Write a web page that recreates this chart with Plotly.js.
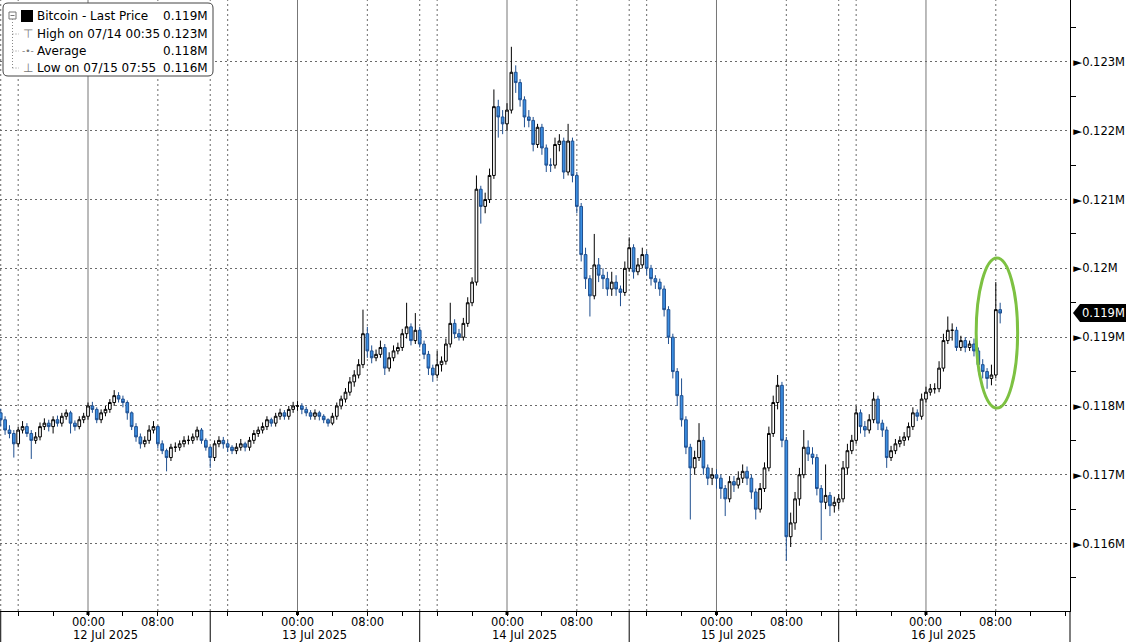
<!DOCTYPE html>
<html><head><meta charset="utf-8">
<script src="https://cdn.plot.ly/plotly-3.0.1.min.js"></script>
<style>html,body{margin:0;padding:0;background:#fff;}#chart{width:1126px;height:642px;}</style>
</head><body><div id="chart"></div>
<script>
// 30-minute Bitcoin candles, 11 Jul 2025 14:00 -> 16 Jul 2025 08:30
const openP = [
117900,117800,117650,117600,117450,117650,117700,117600,117500,117550,
117700,117750,117700,117800,117750,117850,117900,117750,117700,117800,
117850,118000,117950,117800,117900,117950,118050,118150,118100,118050,
117900,117700,117550,117450,117500,117650,117700,117450,117350,117250,
117400,117400,117450,117500,117500,117550,117650,117500,117400,117250,
117450,117500,117450,117400,117350,117400,117450,117400,117500,117600,
117650,117700,117800,117750,117850,117900,117850,117950,118000,118000,
117950,117900,117850,117900,117850,117800,117750,117850,118000,118100,
118200,118350,118450,118600,119050,118800,118700,118750,118850,118550,
118700,118800,118850,119050,119150,118950,119100,118900,118750,118550,
118450,118600,118650,118900,119200,119050,119000,119200,119500,119800,
121150,120900,121000,121350,122350,122200,122100,122300,122850,122700,
122450,122200,122150,121800,122050,121750,121500,121500,121800,121850,
121400,121850,121350,120900,120200,119850,119600,120050,119900,119850,
119700,119800,119700,119650,120000,120300,119950,120050,120200,120000,
119850,119800,119700,119400,119000,118500,118150,117800,117400,117100,
117250,117500,117100,116950,117000,116950,116800,116650,116900,116850,
116950,117050,116950,116750,116500,116800,117100,117600,118050,118300,
117500,116100,116300,116650,117000,117400,117300,117250,116800,116600,
116700,116550,116600,116650,117100,117350,117500,117900,117700,117650,
117800,118100,117750,117650,117250,117350,117450,117500,117550,117700,
117900,117850,118100,118200,118250,118250,118550,118950,119100,119100,
118850,118950,118850,118900,118800,118600,118500,118400,118450,119400
];
const highP = [
117960,117850,117720,117650,117700,117780,117750,117650,117620,117760,
117820,117800,117850,117860,117900,117950,117930,117790,117850,117900,
118050,118060,117980,117950,118000,118100,118230,118200,118150,118080,
117920,117750,117600,117560,117720,117780,117720,117500,117380,117450,
117470,117500,117560,117570,117600,117700,117680,117530,117420,117500,
117560,117550,117500,117430,117460,117520,117480,117550,117650,117700,
117760,117850,117830,117900,117960,117940,118000,118060,118070,118040,
117990,117940,117950,117930,117880,117820,117900,118050,118150,118260,
118420,118520,118680,119400,119150,118880,118820,118950,118900,118780,
118880,118920,119120,119500,119200,119350,119150,118950,118800,118600,
118800,118720,118980,119500,119260,119120,119280,119580,119870,121350,
121200,121100,121450,122600,122450,122300,122400,123220,122950,122750,
122500,122300,122200,122100,122100,121800,121600,121900,121950,121900,
122100,121900,121400,120950,120300,119900,120500,120150,120000,119950,
119950,119900,119750,120100,120450,120350,120150,120300,120250,120050,
119900,119850,119750,119450,119050,118550,118400,117850,117450,117350,
117750,117550,117150,117100,117080,117000,116850,116980,116980,117050,
117150,117120,117000,116800,116880,117180,117700,118150,118450,118350,
117550,116450,116750,117100,117650,117500,117400,117300,116850,117150,
116750,116680,116720,117200,117450,117580,118000,117950,117780,117880,
118200,118150,117800,117700,117420,117520,117560,117620,117760,117980,
117950,118180,118280,118320,118330,118650,119050,119300,119200,119150,
119020,119000,118950,118980,118850,118680,118550,118600,119800,119500
];
const lowP = [
117700,117580,117530,117250,117400,117600,117550,117230,117450,117500,
117650,117630,117600,117700,117700,117800,117600,117640,117660,117750,
117800,117900,117750,117750,117850,117900,118000,118050,117980,117800,
117650,117480,117380,117400,117450,117600,117380,117300,117050,117200,
117330,117350,117400,117440,117450,117500,117450,117350,117100,117200,
117400,117380,117330,117300,117300,117350,117340,117350,117450,117550,
117600,117650,117700,117700,117800,117800,117800,117900,117930,117880,
117850,117800,117800,117790,117750,117700,117720,117800,117950,118050,
118150,118280,118400,118550,118700,118620,118650,118700,118450,118500,
118650,118750,118800,118980,118880,118900,118850,118680,118450,118350,
118400,118500,118600,118850,118980,118950,118950,119150,119450,119750,
120650,120800,120950,121300,121900,121950,122000,122250,122550,122350,
122050,122050,121700,121750,121650,121400,121400,121450,121700,121300,
121350,121250,120800,120100,119700,119300,119550,119800,119700,119600,
119600,119600,119450,119600,119950,119850,119900,120000,119900,119750,
119700,119600,119300,118900,118400,118000,117700,117300,116350,117000,
117200,117000,116850,116850,116800,116650,116400,116600,116750,116800,
116880,116850,116650,116350,116450,116750,117050,117550,117950,117400,
115750,115950,116200,116550,116950,117200,117150,116700,116050,116500,
116400,116450,116500,116600,117000,117300,117450,117600,117550,117600,
117750,117650,117550,117100,117200,117300,117400,117420,117500,117650,
117780,117800,118050,118150,118180,118200,118500,118900,118950,118800,
118800,118780,118800,118720,118500,118400,118250,118300,118400,119200
];
const closeP = [
117800,117650,117600,117450,117650,117700,117600,117500,117550,117700,
117750,117700,117800,117750,117850,117900,117750,117700,117800,117850,
118000,117950,117800,117900,117950,118050,118150,118100,118050,117900,
117700,117550,117450,117500,117650,117700,117450,117350,117250,117400,
117400,117450,117500,117500,117550,117650,117500,117400,117250,117450,
117500,117450,117400,117350,117400,117450,117400,117500,117600,117650,
117700,117800,117750,117850,117900,117850,117950,118000,118000,117950,
117900,117850,117900,117850,117800,117750,117850,118000,118100,118200,
118350,118450,118600,119050,118800,118700,118750,118850,118550,118700,
118800,118850,119050,119150,118950,119100,118900,118750,118550,118450,
118600,118650,118900,119200,119050,119000,119200,119500,119800,121150,
120900,121000,121350,122350,122200,122100,122300,122850,122700,122450,
122200,122150,121800,122050,121750,121500,121500,121800,121850,121400,
121850,121350,120900,120200,119850,119600,120050,119900,119850,119700,
119800,119700,119650,120000,120300,119950,120050,120200,120000,119850,
119800,119700,119400,119000,118500,118150,117800,117400,117100,117250,
117500,117100,116950,117000,116950,116800,116650,116900,116850,116950,
117050,116950,116750,116500,116800,117100,117600,118050,118300,117500,
116100,116300,116650,117000,117400,117300,117250,116800,116600,116700,
116550,116600,116650,117100,117350,117500,117900,117700,117650,117800,
118100,117750,117650,117250,117350,117450,117500,117550,117700,117900,
117850,118100,118200,118250,118250,118550,118950,119100,119100,118850,
118950,118850,118900,118800,118600,118500,118400,118450,119400,119350
];
const START_UTC = Date.UTC(2025, 6, 11, 14, 0);
const STEP_MIN = 30;
const times = closeP.map((_, i) =>
  new Date(START_UTC + i * STEP_MIN * 60000).toISOString().slice(0, 16).replace('T', ' '));

const dayDates  = ['2025-07-11','2025-07-12','2025-07-13','2025-07-14','2025-07-15','2025-07-16'];
const dayLabels = ['12 Jul 2025','13 Jul 2025','14 Jul 2025','15 Jul 2025','16 Jul 2025'];
const hourLabels = ['00:00','08:00'];
const yTickVals = [116000,117000,118000,119000,120000,121000,122000,123000];
const yTickText = ['0.116M','0.117M','0.118M','0.119M','0.12M','0.121M','0.122M','0.123M'];
const yMinorVals = [115500,116500,117500,118500,119500,120500,121500,122500,123500];
const legendLabels = ['Bitcoin - Last Price','High on 07/14 00:35','Average','Low on 07/15 07:55'];

const X_RANGE = ['2025-07-11 13:55', '2025-07-16 16:30'];
const Y_RANGE = [115020, 123900];
const PW = 1070, PH = 611;
const P = x => x / PW;
const Q = y => 1 - y / PH;
const fmtM = v => (v / 1e6).toFixed(3) + 'M';
const AXFONT = {family:'DejaVu Sans', size:11.5, color:'#000'};

// x ticks every 4 hours (marks only; labels are annotations)
const xTickVals = [];
dayDates.forEach(d => {
  [0,4,8,12,16,20].forEach(h => {
    const t = d + ' ' + String(h).padStart(2,'0') + ':00';
    if (t >= X_RANGE[0] && t <= X_RANGE[1]) xTickVals.push(t);
  });
});

const GRID = '#6a6a6a';
const shapes = [];
const annotations = [];
const vline = (x, dash, color, y0, y1) => shapes.push({type:'line', xref:'x', yref:'paper', x0:x, x1:x, y0:y0, y1:y1,
  line:{color:color, width:1, dash:dash}, layer:'below'});
dayDates.forEach((d, k) => {
  if (k > 0) {
    vline(d + ' 00:00', 'solid', '#777', 0, 1);
    vline(d + ' 08:00', '2px,3px', GRID, 0, 1);
    shapes.push({type:'rect', xref:'x', yref:'paper', x0:d + ' 00:00', x1:d + ' 00:00', y0:0, y1:-4/PH,
      line:{color:'#000', width:3}});
    ['00:00','08:00'].forEach((h, j) => annotations.push({xref:'x', yref:'paper', x:d + ' ' + h, y:-10.5/PH,
      xanchor:'center', yanchor:'middle', text:hourLabels[j], showarrow:false, font:AXFONT}));
  }
  if (k < 5) {
    vline(d + ' 16:00', '2px,3px', GRID, 0, 1);
    vline(d + ' 14:00', '2px,3px', GRID, 0, 1);
    shapes.push({type:'line', xref:'x', yref:'paper', x0:d + ' 14:00', x1:d + ' 14:00', y0:0, y1:-31/PH,
      line:{color:'#000', width:1}});
  }
});
// right axis line extends to bottom
shapes.push({type:'line', xref:'paper', yref:'paper', x0:1, x1:1, y0:0, y1:-31/PH, line:{color:'#000', width:1}});
// green ellipse highlight
shapes.push({type:'circle', xref:'x', yref:'y', x0:'2025-07-16 05:45', x1:'2025-07-16 10:30',
  y0:117970, y1:120150, line:{color:'#7dc142', width:3}});

// last price tag
const last = closeP[closeP.length - 1];
const hY = 9 / PH * (Y_RANGE[1] - Y_RANGE[0]);
shapes.push({type:'path', xref:'paper', yref:'y', fillcolor:'#000', line:{width:0},
  path:`M ${P(1073)},${last} L ${P(1080)},${last + hY} L ${P(1126)},${last + hY} L ${P(1126)},${last - hY} L ${P(1080)},${last - hY} Z`});

// legend box
const r = 5, bx0 = 3, bx1 = 213, by0 = 3, by1 = 76;
shapes.push({type:'path', xref:'paper', yref:'paper', fillcolor:'#fff', line:{color:'#444', width:1},
  path:`M ${P(bx0+r)},${Q(by0)} L ${P(bx1-r)},${Q(by0)} Q ${P(bx1)},${Q(by0)} ${P(bx1)},${Q(by0+r)} L ${P(bx1)},${Q(by1-r)} Q ${P(bx1)},${Q(by1)} ${P(bx1-r)},${Q(by1)} L ${P(bx0+r)},${Q(by1)} Q ${P(bx0)},${Q(by1)} ${P(bx0)},${Q(by1-r)} L ${P(bx0)},${Q(by0+r)} Q ${P(bx0)},${Q(by0)} ${P(bx0+r)},${Q(by0)} Z`});
shapes.push({type:'rect', xref:'paper', yref:'paper', x0:P(21), x1:P(33), y0:Q(22), y1:Q(10), fillcolor:'#000', line:{width:0}});
shapes.push({type:'rect', xref:'paper', yref:'paper', x0:P(9), x1:P(16), y0:Q(19), y1:Q(12), fillcolor:'#fff', line:{color:'#777', width:1}});
shapes.push({type:'line', xref:'paper', yref:'paper', x0:P(10.5), x1:P(14.5), y0:Q(15.5), y1:Q(15.5), line:{color:'#777', width:1}});
shapes.push({type:'line', xref:'paper', yref:'paper', x0:P(12.5), x1:P(12.5), y0:Q(19), y1:Q(68), line:{color:'#888', width:1, dash:'1px,2px'}});
[34, 51, 68].forEach(y => shapes.push({type:'line', xref:'paper', yref:'paper', x0:P(12.5), x1:P(19), y0:Q(y), y1:Q(y), line:{color:'#888', width:1, dash:'1px,2px'}}));

const avg = closeP.reduce((a, b) => a + b, 0) / closeP.length;
const legendVals = [last, Math.max(...highP), avg, Math.min(...lowP)];
const rowY = [16, 34, 51, 68];
const LFONT = {family:'DejaVu Sans', size:12, color:'#000'};
legendLabels.forEach((t, i) => {
  annotations.push({xref:'paper', yref:'paper', x:P(35), y:Q(rowY[i]), xanchor:'left', yanchor:'middle', text:t, showarrow:false, font:LFONT});
  annotations.push({xref:'paper', yref:'paper', x:P(210), y:Q(rowY[i]), xanchor:'right', yanchor:'middle', text:fmtM(legendVals[i]), showarrow:false, font:LFONT});
});
const icons = ['⊤', '-•-', '⊥'];
icons.forEach((t, i) => annotations.push({xref:'paper', yref:'paper', x:P(28), y:Q(rowY[i+1]), xanchor:'center', yanchor:'middle',
  text:t, showarrow:false, font:{family:'DejaVu Sans', size:i === 1 ? 9 : 12, color:'#777'}}));

// date labels
dayLabels.forEach((t, i) => annotations.push({xref:'x', yref:'paper', x:dayDates[i+1] + ' 02:00', y:-24/PH,
  xanchor:'center', yanchor:'middle', text:t, showarrow:false, font:AXFONT}));

// last price text
annotations.push({xref:'paper', yref:'y', x:P(1103), y:last, xanchor:'center', yanchor:'middle', text:fmtM(last),
  showarrow:false, font:{family:'DejaVu Sans', size:11.5, color:'#fff'}});

const trace = {
  type:'candlestick', x:times, open:openP, high:highP, low:lowP, close:closeP,
  increasing:{line:{color:'#000', width:1}, fillcolor:'#ffffff'},
  decreasing:{line:{color:'#1f4f8f', width:1}, fillcolor:'#3b8ee2'},
  whiskerwidth:0, hoverinfo:'skip'
};

const layout = {
  width:1126, height:642,
  margin:{l:0, r:56, t:0, b:31, pad:0},
  paper_bgcolor:'#fff', plot_bgcolor:'#fff',
  showlegend:false, boxgap:0.12,
  font:AXFONT,
  xaxis:{type:'date', range:X_RANGE, rangeslider:{visible:false}, showgrid:false, zeroline:false,
    showline:true, linecolor:'#000', linewidth:1, ticks:'outside', ticklen:4, tickwidth:1, tickcolor:'#000',
    tickmode:'array', tickvals:xTickVals, showticklabels:false, automargin:false, fixedrange:true},
  yaxis:{side:'right', range:Y_RANGE, tickmode:'array', tickvals:yTickVals, ticktext:yTickText.map(s => '►' + s),
    showgrid:true, gridcolor:GRID, griddash:'2px,3px', gridwidth:1, showline:true, linecolor:'#000', linewidth:1,
    ticks:'', zeroline:false, automargin:false, tickfont:AXFONT,
    minor:{tickmode:'array', tickvals:yMinorVals, ticks:'outside', ticklen:5, tickcolor:'#000', showgrid:false}},
  shapes:shapes, annotations:annotations
};
Plotly.newPlot('chart', [trace], layout, {staticPlot:true, displayModeBar:false});
</script></body></html>
